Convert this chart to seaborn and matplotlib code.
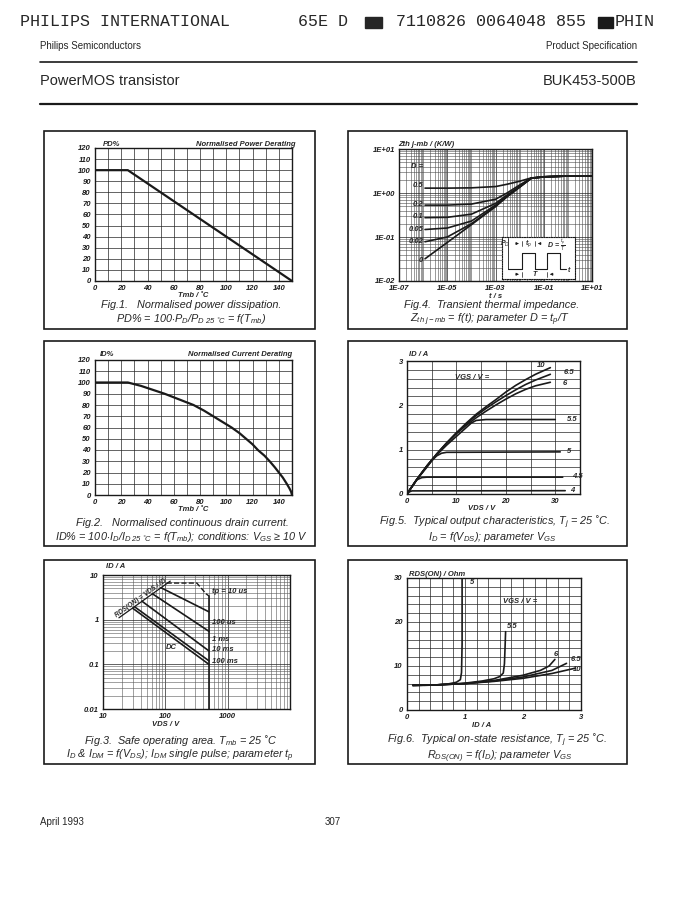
import matplotlib
matplotlib.use("Agg")
import matplotlib.pyplot as plt
import numpy as np
import pandas as pd
import seaborn as sns
from matplotlib.patches import Rectangle
from matplotlib.ticker import MultipleLocator, LogLocator, NullFormatter

W, H = 682, 906

# ---- Fig.1 power derating
pd_tmb = [0, 25, 150]
pd_pct = [100, 100, 0]

# ---- Fig.2 current derating
id_tmb = [0, 25, 35, 44, 53, 64, 75, 83, 90, 97, 104, 110, 115, 120, 124, 129, 133, 137, 140, 143, 146, 148, 149.3, 150]
id_pct = [100, 100, 97, 93.5, 90, 85, 80, 75, 70, 65, 60, 55, 50, 45, 40, 35, 30, 24.5, 20, 15.5, 10, 6, 3, 0]

# ---- Fig.4 transient thermal impedance
zth_t = [1.2e-6, 1e-5, 1e-4, 1e-3, 3e-3, 1e-2, 3e-2, 1e-1, 1, 10]
zth_d = {
    "0":    [0.032, 0.075, 0.19, 0.49, 0.82, 1.35, 2.15, 2.33, 2.43, 2.45],
    "0.02": [0.078, 0.10, 0.20, 0.50, 0.83, 1.36, 2.15, 2.33, 2.43, 2.45],
    "0.05": [0.148, 0.16, 0.23, 0.53, 0.85, 1.38, 2.16, 2.33, 2.43, 2.45],
    "0.1":  [0.275, 0.28, 0.33, 0.58, 0.90, 1.42, 2.17, 2.33, 2.43, 2.45],
    "0.2":  [0.53, 0.53, 0.56, 0.72, 1.00, 1.52, 2.18, 2.33, 2.43, 2.45],
    "0.5":  [1.29, 1.29, 1.31, 1.40, 1.58, 1.85, 2.20, 2.34, 2.43, 2.45],
}
d_labels = ["0.5", "0.2", "0.1", "0.05", "0.02", "0"]
d_label_y = [1.45, 0.55, 0.29, 0.15, 0.08, 0.03]
pulse_t = [0, 1, 1, 2, 2, 2.9, 2.9, 3.9, 3.9, 4.3]
pulse_p = [0, 0, 1, 1, 0, 0, 1, 1, 0, 0]

# ---- Fig.5 output characteristics
out_v = [0, 2, 4, 6, 8, 10, 12, 14, 16, 18, 20, 22, 24, 26, 29]
out_i10 = [0, 0.33, 0.63, 0.9, 1.15, 1.38, 1.6, 1.8, 1.97, 2.13, 2.3, 2.45, 2.58, 2.7, 2.85]
out_i65 = [0, 0.33, 0.63, 0.9, 1.15, 1.38, 1.58, 1.77, 1.93, 2.08, 2.22, 2.35, 2.47, 2.57, 2.7]
out_i6 = [0, 0.33, 0.63, 0.9, 1.14, 1.36, 1.55, 1.72, 1.87, 2.01, 2.14, 2.26, 2.36, 2.44, 2.52]
out_v55 = [0, 2, 4, 6, 8, 10, 12, 13, 14, 16, 30]
out_i55 = [0, 0.33, 0.62, 0.88, 1.1, 1.3, 1.5, 1.6, 1.66, 1.68, 1.68]
out_v5 = [0, 2, 4, 5, 6, 7, 8, 31]
out_i5 = [0, 0.33, 0.6, 0.75, 0.86, 0.92, 0.94, 0.95]
out_v45 = [0, 1, 2, 3, 4, 31.5]
out_i45 = [0, 0.17, 0.32, 0.37, 0.38, 0.38]
out_v4 = [0, 0.5, 1, 32]
out_i4 = [0, 0.05, 0.07, 0.075]
vgs_names = ["10", "6.5", "6", "5.5", "5", "4.5", "4"]
vgs_label_v = [26.3, 31.7, 31.4, 32.4, 32.4, 33.4, 33.1]
vgs_label_i = [2.9, 2.74, 2.5, 1.67, 0.95, 0.4, 0.09]

# ---- Fig.3 safe operating area
rds_v, rds_i = [18, 120], [1.1, 7.3]
tp10_v, tp10_i = [105, 320, 450, 500], [6.6, 6.6, 3.8, 3.4]
vmax_v, vmax_i = [500, 500], [3.4, 0.01]
tp100_v, tp100_i = [85, 500], [5.2, 1.5]
tp1m_v, tp1m_i = [62, 500], [3.8, 0.55]
tp10m_v, tp10m_i = [42, 500], [2.6, 0.2]
tp100m_v, tp100m_i = [32, 500], [1.95, 0.12]
dc_v, dc_i = [30, 500], [1.8, 0.1]
tp_names = ["tp = 10 us", "100 us", "1 ms", "10 ms", "100 ms"]
tp_label_i = [4.2, 0.85, 0.36, 0.21, 0.115]

# ---- Fig.6 on-state resistance
r5_id = [0.1, 0.3, 0.5, 0.7, 0.85, 0.92, 0.94, 0.95, 0.95]
r5_r = [5.6, 5.6, 5.7, 5.9, 6.3, 6.9, 8.5, 15, 30]
r55_id = [0.1, 0.5, 1.0, 1.3, 1.5, 1.6, 1.66, 1.68, 1.69, 1.70]
r55_r = [5.6, 5.7, 6.1, 6.6, 7.1, 7.6, 8.4, 10.5, 14, 17.8]
r6_id = [0.1, 0.5, 1.0, 1.5, 2.0, 2.3, 2.45, 2.55]
r6_r = [5.6, 5.7, 6.0, 6.7, 7.9, 9.0, 10.0, 11.5]
r65_id = [0.1, 0.5, 1.0, 1.5, 2.0, 2.5, 2.75]
r65_r = [5.6, 5.7, 6.0, 6.6, 7.5, 9.0, 10.6]
r10_id = [0.1, 0.5, 1.0, 1.5, 2.0, 2.5, 2.9]
r10_r = [5.6, 5.7, 6.0, 6.5, 7.2, 8.3, 9.5]
rds_names = ["5", "5.5", "6", "6.5", "10"]
rds_label_id = [1.08, 1.72, 2.52, 2.83, 2.86]
rds_label_r = [28.9, 18.9, 12.7, 11.5, 9.1]

sns.set_theme(style="white")
plt.rcParams["font.family"] = ["Liberation Sans", "DejaVu Sans"]
plt.rcParams["mathtext.fontset"] = "custom"
plt.rcParams["mathtext.rm"] = "Liberation Sans:italic"
plt.rcParams["mathtext.it"] = "Liberation Sans:italic"
plt.rcParams["mathtext.bf"] = "Liberation Sans:bold:italic"

fig = plt.figure(figsize=(W / 100, H / 100), dpi=100)
fig.patch.set_facecolor("white")


def px_axes(x0, y0, x1, y1, **kw):
    return fig.add_axes([x0 / W, 1 - y1 / H, (x1 - x0) / W, (y1 - y0) / H], **kw)


def ftext(x, y, s, **kw):
    kw.setdefault("va", "center")
    fig.text(x / W, 1 - y / H, s, **kw)


def box(x0, y0, x1, y1, lw=1.2):
    fig.patches.append(Rectangle((x0 / W, 1 - y1 / H), (x1 - x0) / W, (y1 - y0) / H,
                                 transform=fig.transFigure, fill=False, lw=lw, ec="k"))


def hline(x0, x1, y, lw=1.0):
    fig.add_artist(plt.Line2D([x0 / W, x1 / W], [1 - y / H, 1 - y / H], color="k", lw=lw))


def style(ax):
    for s in ax.spines.values():
        s.set_visible(True)
        s.set_color("k")
        s.set_linewidth(1.0)
    ax.set_facecolor("white")
    ax.tick_params(which="major", length=2, width=0.6, pad=1, colors="k", labelsize=5.5)
    ax.tick_params(which="minor", length=0)
    for lab in ax.get_xticklabels() + ax.get_yticklabels():
        lab.set_fontweight("bold")
        lab.set_fontstyle("italic")
    ax.grid(which="both", color="0.15", lw=0.5)
    ax.set_xlabel("")
    ax.set_ylabel("")


def curve(ax, x, y, lw=1.4, ls="-"):
    sns.lineplot(x=x, y=y, ax=ax, color="k", lw=lw, linestyle=ls, sort=False, estimator=None)


lab_kw = dict(fontsize=5.5, fontweight="bold", fontstyle="italic")
cap_kw = dict(fontsize=7.8, fontstyle="italic", ha="center")

# ---------------- header
mono = dict(family="Liberation Mono", fontsize=12)
ftext(20, 22, "PHILIPS INTERNATIONAL", **mono)
ftext(298, 22, "65E D", **mono)
fig.patches.append(Rectangle((365 / W, 1 - 28 / H), 17 / W, 11 / H, transform=fig.transFigure,
                             color="0.15"))
ftext(396, 22, "7110826 0064048 855", **mono)
fig.patches.append(Rectangle((598 / W, 1 - 28 / H), 15 / W, 11 / H, transform=fig.transFigure,
                             color="k"))
ftext(615, 22, "PHIN", **mono)
ftext(40, 46, "Philips Semiconductors", fontsize=7)
ftext(637, 46, "Product Specification", fontsize=7, ha="right")
hline(40, 637, 62, lw=1.2)
ftext(40, 81, "PowerMOS transistor", fontsize=10.5)
ftext(637, 81, "BUK453-500B", fontsize=10.5, ha="right")
hline(40, 637, 104, lw=1.6)

for b in [(44, 131, 315, 329), (348, 131, 627, 329), (44, 341, 315, 546),
          (348, 341, 627, 546), (44, 560, 315, 764), (348, 560, 627, 764)]:
    box(*b)

# ---------------- Fig.1
ax1 = px_axes(95, 148, 292, 281)
curve(ax1, pd_tmb, pd_pct, lw=1.6)
ax1.set_xlim(0, 150)
ax1.set_ylim(0, 120)
ax1.set_xticks(range(0, 150, 20))
ax1.set_xticklabels([str(v) for v in range(0, 150, 20)])
ax1.set_yticks(range(0, 121, 10))
ax1.set_yticklabels([str(v) for v in range(0, 121, 10)])
ax1.xaxis.set_minor_locator(MultipleLocator(10))
style(ax1)
ftext(103, 144, "PD%", **lab_kw)
ftext(296, 144, "Normalised Power Derating", ha="right", **lab_kw)
ftext(193, 295.5, "Tmb / ˚C", ha="center", **lab_kw)
ftext(191, 304.5, "Fig.1.   Normalised power dissipation.", **cap_kw)
ftext(191, 318.5, r"PD% = 100$\cdot$P$_D$/P$_{D\ 25\ ˚C}$ = f(T$_{mb}$)", **cap_kw)

# ---------------- Fig.2
ax2 = px_axes(95, 360, 292, 495)
curve(ax2, id_tmb, id_pct, lw=1.6)
ax2.set_xlim(0, 150)
ax2.set_ylim(0, 120)
ax2.set_xticks(range(0, 150, 20))
ax2.set_xticklabels([str(v) for v in range(0, 150, 20)])
ax2.set_yticks(range(0, 121, 10))
ax2.set_yticklabels([str(v) for v in range(0, 121, 10)])
ax2.xaxis.set_minor_locator(MultipleLocator(10))
style(ax2)
ftext(100, 355, "ID%", **lab_kw)
ftext(292, 355, "Normalised Current Derating", ha="right", **lab_kw)
ftext(193, 509.5, "Tmb / ˚C", ha="center", **lab_kw)
ftext(182, 522.5, "Fig.2.   Normalised continuous drain current.", **cap_kw)
ftext(181, 536.5, r"ID% = 100$\cdot$I$_D$/I$_{D\ 25\ ˚C}$ = f(T$_{mb}$); conditions: V$_{GS}$ ≥ 10 V",
      **cap_kw)

# ---------------- Fig.4
ax4 = px_axes(399, 149, 592, 281)
zdf = pd.DataFrame([(d, t, z) for d, zs in zth_d.items() for t, z in zip(zth_t, zs)],
                   columns=["D", "t", "zth"])
sns.lineplot(data=zdf, x="t", y="zth", units="D", estimator=None, color="k", lw=1.2,
             sort=False, ax=ax4)
ax4.set_xscale("log")
ax4.set_yscale("log")
ax4.set_xlim(1e-7, 10)
ax4.set_ylim(1e-2, 10)
ax4.set_xticks([1e-7, 1e-5, 1e-3, 1e-1, 10])
ax4.set_xticklabels(["1E-07", "1E-05", "1E-03", "1E-01", "1E+01"])
ax4.set_yticks([1e-2, 1e-1, 1, 10])
ax4.set_yticklabels(["1E-02", "1E-01", "1E+00", "1E+01"])
ax4.xaxis.set_minor_locator(LogLocator(base=10, subs=np.arange(1, 10), numticks=20))
ax4.xaxis.set_minor_formatter(NullFormatter())
ax4.yaxis.set_minor_locator(LogLocator(base=10, subs=np.arange(1, 10), numticks=20))
ax4.yaxis.set_minor_formatter(NullFormatter())
style(ax4)
ax4.grid(which="minor", color="0.3", lw=0.4)
for name, yv in zip(d_labels, d_label_y):
    ax4.text(1.0e-6, yv, name, ha="right", va="center", **lab_kw)
ax4.text(3e-7, 4.0, "D =", ha="left", va="center", **lab_kw)
ftext(398, 145, "Zth j-mb / (K/W)", **lab_kw)
ftext(496, 296, "t / s", ha="center", **lab_kw)
ftext(492, 305.5, "Fig.4.  Transient thermal impedance.", **cap_kw)
ftext(490, 319.5, r"Z$_{th\ j-mb}$ = f(t); parameter D = t$_p$/T", **cap_kw)

ins = px_axes(502, 237, 575, 279)
ins.set_zorder(5)
curve(ins, pulse_t, pulse_p, lw=0.8)
curve(ins, [0, 0], [0, 2.0], lw=0.6)
ins.set_xlim(-0.475, 4.99)
ins.set_ylim(-0.694, 2.083)
ins.set_xticks([])
ins.set_yticks([])
ins.set_xlabel("")
ins.set_ylabel("")
for s in ins.spines.values():
    s.set_linestyle((0, (1, 1.2)))
    s.set_linewidth(0.8)
    s.set_color("k")
ins.set_facecolor("white")
ikw = dict(fontsize=5, fontweight="bold", fontstyle="italic", va="center", ha="center")
ins.text(-0.28, 1.6, r"P$_D$", **ikw)
ins.text(1.5, 1.65, r"t$_p$", **ikw)
ins.text(3.55, 1.5, r"D = $\frac{t_p}{T}$", **ikw)
ins.text(4.55, -0.15, "t", **ikw)
ins.text(1.95, -0.38, "T", **ikw)
for (x0, x1, yy) in [(0.35, 1, 1.65), (2.65, 2, 1.65), (0.35, 1, -0.38), (3.55, 2.9, -0.38)]:
    ins.annotate("", xy=(x1, yy), xytext=(x0, yy),
                 arrowprops=dict(arrowstyle="-|>", lw=0.5, color="k", mutation_scale=4))
    ins.plot([x1, x1], [yy - 0.18, yy + 0.18], color="k", lw=0.5)

# ---------------- Fig.5
ax5 = px_axes(407, 361, 580, 494)
for vv, ii in [(out_v, out_i10), (out_v, out_i65), (out_v, out_i6), (out_v55, out_i55),
               (out_v5, out_i5), (out_v45, out_i45), (out_v4, out_i4)]:
    curve(ax5, vv, ii, lw=1.2)
ax5.set_xlim(0, 35)
ax5.set_ylim(0, 3)
ax5.set_xticks([0, 10, 20, 30])
ax5.set_xticklabels(["0", "10", "20", "30"])
ax5.set_yticks([0, 1, 2, 3])
ax5.set_yticklabels(["0", "1", "2", "3"])
ax5.xaxis.set_minor_locator(MultipleLocator(5))
ax5.yaxis.set_minor_locator(MultipleLocator(0.2))
style(ax5)
for name, xv, yv in zip(vgs_names, vgs_label_v, vgs_label_i):
    ax5.text(xv, yv, name, ha="left", va="center", **lab_kw)
ax5.text(9.8, 2.63, "VGS / V =", ha="left", va="center", **lab_kw)
ftext(409, 355, "ID / A", **lab_kw)
ftext(482, 508.5, "VDS / V", ha="center", **lab_kw)
ftext(494, 522.5, "Fig.5.  Typical output characteristics, T$_j$ = 25 ˚C.", **cap_kw)
ftext(492, 536.5, r"I$_D$ = f(V$_{DS}$); parameter V$_{GS}$", **cap_kw)

# ---------------- Fig.3
ax3 = px_axes(103, 575, 290, 709)
curve(ax3, rds_v, rds_i, lw=0.9)
curve(ax3, tp10_v, tp10_i, lw=1.0, ls="--")
curve(ax3, vmax_v, vmax_i, lw=1.2)
for vv, ii in [(tp100_v, tp100_i), (tp1m_v, tp1m_i), (tp10m_v, tp10m_i),
               (tp100m_v, tp100m_i), (dc_v, dc_i)]:
    curve(ax3, vv, ii, lw=1.2)
ax3.set_xscale("log")
ax3.set_yscale("log")
ax3.set_xlim(10, 1e4)
ax3.set_ylim(0.01, 10)
ax3.set_xticks([10, 100, 1000])
ax3.set_xticklabels(["10", "100", "1000"])
ax3.set_yticks([0.01, 0.1, 1, 10])
ax3.set_yticklabels(["0.01", "0.1", "1", "10"])
ax3.xaxis.set_minor_locator(LogLocator(base=10, subs=np.arange(1, 10), numticks=20))
ax3.xaxis.set_minor_formatter(NullFormatter())
ax3.yaxis.set_minor_locator(LogLocator(base=10, subs=np.arange(1, 10), numticks=20))
ax3.yaxis.set_minor_formatter(NullFormatter())
style(ax3)
ax3.grid(which="minor", color="0.35", lw=0.4)
for name, yv in zip(tp_names, tp_label_i):
    ax3.text(560, yv, name, ha="left", va="center", **lab_kw)
ax3.text(125, 0.24, "DC", ha="center", va="center", **lab_kw)
ax3.text(41, 3.0, "RDS(ON) = VDS / ID", ha="center", va="center", rotation=35.8,
         fontsize=4.8, fontweight="bold", fontstyle="italic")
ftext(106, 566, "ID / A", **lab_kw)
ftext(166, 724.5, "VDS / V", ha="center", **lab_kw)
ftext(181, 741, "Fig.3.  Safe operating area. T$_{mb}$ = 25 ˚C", **cap_kw)
ftext(180, 755.5, r"I$_D$ & I$_{DM}$ = f(V$_{DS}$); I$_{DM}$ single pulse; parameter t$_p$", **cap_kw)

# ---------------- Fig.6
ax6 = px_axes(407, 578, 581, 710)
for ii, rr in [(r5_id, r5_r), (r55_id, r55_r), (r6_id, r6_r), (r65_id, r65_r), (r10_id, r10_r)]:
    curve(ax6, ii, rr, lw=1.2)
ax6.set_xlim(0, 3)
ax6.set_ylim(0, 30)
ax6.set_xticks([0, 1, 2, 3])
ax6.set_xticklabels(["0", "1", "2", "3"])
ax6.set_yticks([0, 10, 20, 30])
ax6.set_yticklabels(["0", "10", "20", "30"])
ax6.xaxis.set_minor_locator(MultipleLocator(0.2))
ax6.yaxis.set_minor_locator(MultipleLocator(2))
style(ax6)
for name, xv, yv in zip(rds_names, rds_label_id, rds_label_r):
    ax6.text(xv, yv, name, ha="left", va="center", **lab_kw)
ax6.text(1.65, 24.6, "VGS / V =", ha="left", va="center", **lab_kw)
ftext(409, 574, "RDS(ON) / Ohm", **lab_kw)
ftext(482, 725.5, "ID / A", ha="center", **lab_kw)
ftext(497, 740.5, "Fig.6.  Typical on-state resistance, T$_j$ = 25 ˚C.", **cap_kw)
ftext(500, 756.5, r"R$_{DS(ON)}$ = f(I$_D$); parameter V$_{GS}$", **cap_kw)

# ---------------- footer
ftext(40, 822, "April 1993", fontsize=7)
ftext(325, 822, "307", fontsize=7)

fig.savefig("out.png", dpi=100, facecolor="white")
